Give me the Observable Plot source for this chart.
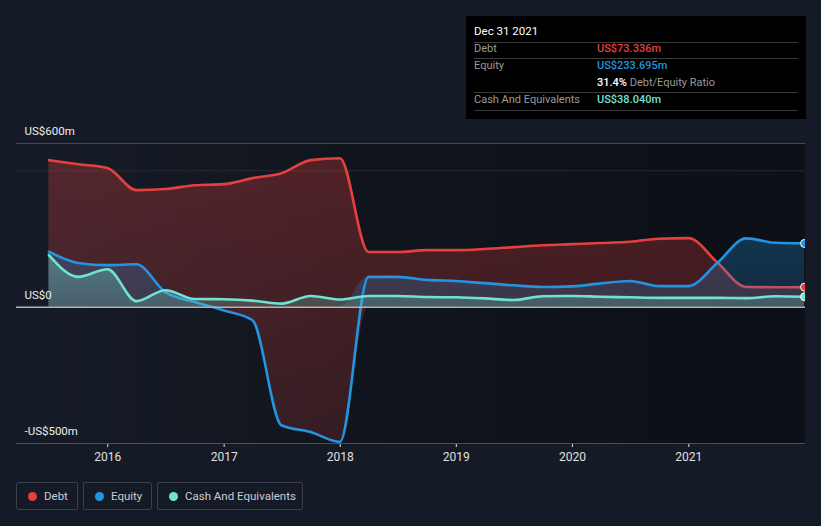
<!DOCTYPE html>
<html>
<head>
<meta charset="utf-8">
<script src="https://cdn.jsdelivr.net/npm/d3@7"></script>
<script src="https://cdn.jsdelivr.net/npm/@observablehq/plot@0.6"></script>
<style>
  html, body { margin: 0; padding: 0; background: #151b26; }
  body { width: 821px; height: 526px; position: relative; overflow: hidden; font-family: Roboto, "Noto Sans", sans-serif; }
  #plotbg { position: absolute; left: 16px; top: 143px; width: 789px; height: 300px;
    background: linear-gradient(to right, #161c27 0%, #10141c 45%, #0c0f15 100%); }
  #chart { position: absolute; left: 0; top: 0; }
  #cover { position: absolute; left: 805px; top: 140px; width: 16px; height: 310px; background: #151b26; }
  #tip { position: absolute; left: 466px; top: 16px; width: 340px; height: 103px; background: #000; font-size: 11px; color: #9a9a9a; }
  #tip .date { position: absolute; left: 8px; top: 8px; color: #fff; font-size: 11.5px; }
  #tip .sep { position: absolute; left: 8px; width: 324px; height: 1px; background: #3a3a3a; }
  #tip .lab { position: absolute; left: 8px; }
  #tip .val { position: absolute; left: 131px; font-weight: 500; }
  #legend { position: absolute; left: 16px; top: 482px; }
  #legend .item { position: absolute; top: 0; height: 28px; border: 1px solid #3b414b; border-radius: 2px; box-sizing: border-box; font-size: 11.5px; color: #c9ccd1; }
  #legend .dot { position: absolute; left: 11px; top: 9px; width: 9px; height: 9px; border-radius: 50%; }
  #legend .txt { position: absolute; left: 27px; top: 6px; white-space: nowrap; }
</style>
</head>
<body>
<div id="plotbg"></div>
<div id="chart"></div>
<div id="cover"></div>
<div id="tip"></div>
<div id="legend"></div>
<script>
// ---- data (US$ millions, quarter ends) ----
const dates = ["2015-06-30","2015-09-30","2015-12-31","2016-03-31","2016-06-30","2016-09-30","2016-12-31",
  "2017-03-31","2017-06-30","2017-09-30","2017-12-31","2018-03-31","2018-06-30","2018-09-30","2018-12-31",
  "2019-03-31","2019-06-30","2019-09-30","2019-12-31","2020-03-31","2020-06-30","2020-09-30","2020-12-31",
  "2021-03-31","2021-06-30","2021-09-30","2021-12-31"];
const debt   = [539, 524, 510, 429, 433, 447, 451, 473, 491, 539, 546, 202, 202, 209, 209,
  213, 220, 227, 231, 235, 240, 251, 253, 165, 74, 73, 73.336];
const equity = [203, 162, 154, 157, 55, 19, -12, -48, -433, -458, -494, 111, 111, 100, 96,
  88, 80, 74, 76, 87, 96, 77, 77, 161, 252, 236, 233.695];
const cash   = [191, 111, 139, 22, 62, 30, 29, 24, 13, 41, 28, 41, 41, 37, 36,
  32, 26, 40, 41, 38, 36, 34, 34, 34, 33, 40, 38.04];
const yTicks = [600, 0, -500];
const yTickLabels = ["US$600m", "US$0", "-US$500m"];
const yearTicks = ["2016-01-01","2017-01-01","2018-01-01","2019-01-01","2020-01-01","2021-01-01"];
const seriesNames = ["Debt", "Equity", "Cash And Equivalents"];
const seriesColors = ["#e5403f", "#2394df", "#6fe3cf"];
const tipDate = "Dec 31 2021";
const tipValues = ["US$73.336m", "US$233.695m", "US$38.040m"];
const tipRatio = "31.4%";

const parse = d3.utcParse("%Y-%m-%d");
const rows = dates.map((d, i) => ({date: parse(d), debt: debt[i], equity: equity[i], cash: cash[i]}));
const last = rows[rows.length - 1];

const ns = "http://www.w3.org/2000/svg";
function defsMark() {
  const defs = document.createElementNS(ns, "defs");
  const mk = (id, color, o1, o2) => {
    const g = document.createElementNS(ns, "linearGradient");
    g.setAttribute("id", id); g.setAttribute("x1", "0"); g.setAttribute("y1", "0");
    g.setAttribute("x2", "0"); g.setAttribute("y2", "1");
    [[0, o1], [1, o2]].forEach(([off, op]) => {
      const s = document.createElementNS(ns, "stop");
      s.setAttribute("offset", off); s.setAttribute("stop-color", color); s.setAttribute("stop-opacity", op);
      g.appendChild(s);
    });
    defs.appendChild(g);
  };
  mk("gDebt", seriesColors[0], 0.3, 0.17);
  mk("gEq", seriesColors[1], 0.28, 0.2);
  mk("gCash", seriesColors[2], 0.35, 0.22);
  const g = document.createElementNS(ns, "g");
  g.appendChild(defs);
  return g;
}

const chart = Plot.plot({
  width: 821,
  height: 526,
  marginTop: 143,
  marginBottom: 83,
  marginLeft: 16,
  marginRight: 16,
  style: {background: "transparent", color: "#e0e0e0", fontFamily: "Roboto, sans-serif", fontSize: "12px"},
  x: {type: "utc", domain: [new Date(Date.UTC(2015, 2, 20)), new Date(Date.UTC(2022, 0, 3))],
      ticks: yearTicks.map(parse), tickFormat: d3.utcFormat("%Y"), tickSize: 4, tickPadding: 5, label: null},
  y: {domain: [-500, 600], axis: null},
  marks: [
    defsMark,
    Plot.ruleY([500], {stroke: "#272c34", strokeWidth: 1}),
    Plot.ruleY([600], {stroke: "#454a52", strokeWidth: 1}),
    Plot.ruleY([-500], {stroke: "#4b5058", strokeWidth: 1}),
    Plot.areaY(rows, {x: "date", y1: d => Math.min(0, d.equity), y2: "debt", curve: "monotone-x", fill: "url(#gDebt)"}),
    Plot.line(rows, {x: "date", y: "debt", curve: "monotone-x", stroke: seriesColors[0], strokeWidth: 2.6}),
    Plot.areaY(rows, {x: "date", y1: 0, y2: d => Math.max(0, d.equity), curve: "monotone-x", fill: "url(#gEq)"}),
    Plot.line(rows, {x: "date", y: "equity", curve: "monotone-x", stroke: seriesColors[1], strokeWidth: 2.6}),
    Plot.areaY(rows, {x: "date", y1: 0, y2: "cash", curve: "monotone-x", fill: "url(#gCash)"}),
    Plot.line(rows, {x: "date", y: "cash", curve: "monotone-x", stroke: seriesColors[2], strokeWidth: 2.6}),
    Plot.ruleY([0], {stroke: "#b4b4b4", strokeWidth: 1.5}),
    Plot.dot([last], {x: "date", y: "debt", r: 4, fill: seriesColors[0], stroke: "#fff", strokeWidth: 1}),
    Plot.dot([last], {x: "date", y: "cash", r: 4, fill: seriesColors[2], stroke: "#fff", strokeWidth: 1}),
    Plot.dot([last], {x: "date", y: "equity", r: 4, fill: seriesColors[1], stroke: "#fff", strokeWidth: 1}),
    Plot.text(yTicks, {y: d => d, text: (d, i) => yTickLabels[i], frameAnchor: "left", dx: 8, dy: -12,
      textAnchor: "start", fill: "#eeeeee", fontSize: 11.5})
  ]
});
document.getElementById("chart").appendChild(chart);

// tooltip
const tip = document.getElementById("tip");
const add = (cls, txt, top, color) => {
  const e = document.createElement("div");
  e.className = cls; e.style.top = top + "px";
  if (txt !== null) e.innerHTML = txt;
  if (color) e.style.color = color;
  tip.appendChild(e);
};
add("date", tipDate, 8);
[25.5, 42, 76, 94].forEach(t => add("sep", null, t));
add("lab", seriesNames[0], 26);
add("val", tipValues[0], 26, seriesColors[0]);
add("lab", seriesNames[1], 43);
add("val", tipValues[1], 43, seriesColors[1]);
add("val", `<span style="color:#fff">${tipRatio}</span> <span style="color:#9a9a9a;font-weight:400">Debt/Equity Ratio</span>`, 60);
add("lab", seriesNames[2], 77);
add("val", tipValues[2], 77, seriesColors[2]);

// legend
const legend = document.getElementById("legend");
const legLeft = [0, 67, 141];
const legWidth = [62, 69, 146];
seriesNames.forEach((n, i) => {
  const it = document.createElement("div");
  it.className = "item";
  it.style.left = legLeft[i] + "px";
  it.style.width = legWidth[i] + "px";
  it.innerHTML = `<span class="dot" style="background:${seriesColors[i]}"></span><span class="txt">${n}</span>`;
  legend.appendChild(it);
});
</script>
</body>
</html>
